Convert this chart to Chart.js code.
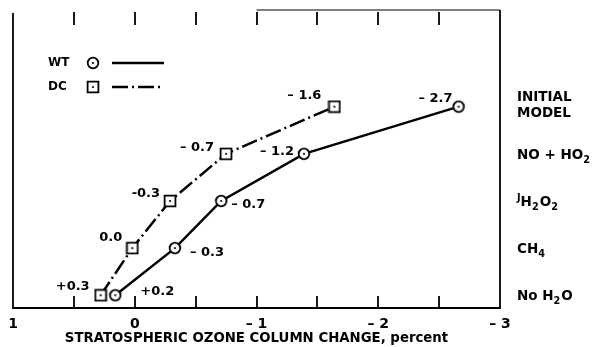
<!DOCTYPE html>
<html>
<head>
<meta charset="utf-8">
<script src="https://cdn.jsdelivr.net/npm/chart.js@4"></script>
<style>
  body { margin: 0; background: #fff; }
  #wrap { width: 594px; height: 347px; }
</style>
</head>
<body>
<div id="wrap"><canvas id="ozone" width="594" height="347"></canvas></div>
<script>
// rows, bottom to top
const rows = ['No H₂O', 'CH₄', 'ᴶH₂O₂', 'NO + HO₂', 'INITIAL\nMODEL'];
const rowPos = [0, 1, 2, 3, 4];

// ozone column change, percent
const wtChange = [0.16, -0.33, -0.71, -1.39, -2.66];
const dcChange = [0.28, 0.02, -0.29, -0.75, -1.64];
const wtText = ['+0.2', '– 0.3', '– 0.7', '– 1.2', '– 2.7'];
const dcText = ['+0.3', '0.0', '-0.3', '– 0.7', '– 1.6'];

const xTickValues = [1, 0, -1, -2, -3];
const xTickText = ['1', '0', '– 1', '– 2', '– 3'];
const xMinorTicks = [0.5, 0, -0.5, -1, -1.5, -2, -2.5];

const FONT = '"DejaVu Sans", sans-serif';

// marker images (circle / square with centre dot)
function makeMarker(shape) {
    const c = document.createElement('canvas');
    c.width = 14; c.height = 14;
    const g = c.getContext('2d');
    g.fillStyle = '#fff';
    g.strokeStyle = '#000';
    g.lineWidth = 1.8;
    g.beginPath();
    if (shape === 'circle') g.arc(7, 7, 5.3, 0, Math.PI * 2);
    else g.rect(1.6, 1.6, 10.8, 10.8);
    g.fill();
    g.stroke();
    g.fillStyle = '#000';
    g.beginPath();
    g.arc(7, 7, 1.1, 0, Math.PI * 2);
    g.fill();
    return c;
}
const circleImg = makeMarker('circle');
const squareImg = makeMarker('square');

// text with subscript digits and raised J
const SUB = { '₀': '0', '₁': '1', '₂': '2', '₃': '3', '₄': '4' };
function drawRich(ctx, text, x, y, size) {
    ctx.textBaseline = 'alphabetic';
    ctx.textAlign = 'left';
    let cx = x;
    for (const ch of text) {
        if (SUB[ch]) {
            ctx.font = 'bold ' + (size * 0.72) + 'px ' + FONT;
            ctx.fillText(SUB[ch], cx, y + 4);
            cx += ctx.measureText(SUB[ch]).width + 1;
        } else if (ch === 'ᴶ') {
            ctx.font = 'bold ' + (size * 0.72) + 'px ' + FONT;
            ctx.fillText('J', cx, y - 5);
            cx += ctx.measureText('J').width;
        } else {
            ctx.font = 'bold ' + size + 'px ' + FONT;
            ctx.fillText(ch, cx, y);
            cx += ctx.measureText(ch).width;
        }
    }
}

// label offsets from the marker: [dx, dy, align]
const wtLabelPos = [[25, -4, 'left'], [15, 5, 'left'], [10, 4, 'left'], [-10, -2, 'right'], [-6, -8, 'right']];
const dcLabelPos = [[-11, -9, 'right'], [-10, -10, 'right'], [-10, -7, 'right'], [-12, -6, 'right'], [-13, -11, 'right']];

const decorPlugin = {
    id: 'decor',
    beforeDatasetsDraw(chart) {
        const { ctx, chartArea: a, scales: { x } } = chart;
        ctx.save();
        ctx.strokeStyle = '#000';
        // frame (top edge is faded out on the left in the original)
        ctx.lineWidth = 1.8;
        ctx.beginPath();
        ctx.moveTo(a.left, a.top + 3); ctx.lineTo(a.left, a.bottom);
        ctx.lineTo(a.right, a.bottom); ctx.lineTo(a.right, a.top);
        ctx.stroke();
        ctx.lineWidth = 1.2;
        ctx.beginPath();
        ctx.moveTo(x.getPixelForValue(-1), a.top); ctx.lineTo(a.right, a.top);
        ctx.stroke();
        // inside ticks top and bottom
        ctx.lineWidth = 1.8;
        xMinorTicks.forEach(v => {
            const px = Math.round(x.getPixelForValue(v));
            ctx.beginPath();
            ctx.moveTo(px, a.bottom); ctx.lineTo(px, a.bottom - 12);
            ctx.moveTo(px, a.top + 2); ctx.lineTo(px, a.top + 15);
            ctx.stroke();
        });
        ctx.restore();
    },
    afterDatasetsDraw(chart) {
        const { ctx, chartArea: a, scales: { x, y } } = chart;
        ctx.save();
        ctx.fillStyle = '#000';
        // value labels
        ctx.font = 'bold 13px ' + FONT;
        ctx.textBaseline = 'middle';
        [[wtChange, wtText, wtLabelPos], [dcChange, dcText, dcLabelPos]].forEach(([vals, txt, pos]) => {
            vals.forEach((v, i) => {
                const px = x.getPixelForValue(v);
                const py = y.getPixelForValue(rowPos[i]);
                ctx.textAlign = pos[i][2];
                ctx.fillText(txt[i], px + pos[i][0], py + pos[i][1]);
            });
        });
        // row labels on the right
        rows.forEach((r, i) => {
            const py = y.getPixelForValue(rowPos[i]);
            const lines = r.split('\n');
            lines.forEach((ln, k) => {
                const ly = py + 5 + (k - (lines.length - 1) / 2) * 16 - (lines.length > 1 ? 3 : 0);
                drawRich(ctx, ln, a.right + 17, ly, 13.5);
            });
        });
        // legend
        ctx.font = 'bold 12px ' + FONT;
        ctx.textAlign = 'left';
        ctx.textBaseline = 'middle';
        ctx.fillText('WT', 48, 63);
        ctx.fillText('DC', 48, 87);
        ctx.lineWidth = 2.5;
        ctx.beginPath(); ctx.moveTo(112, 63); ctx.lineTo(164, 63); ctx.stroke();
        ctx.setLineDash([16, 4, 2, 4]);
        ctx.beginPath(); ctx.moveTo(112, 87); ctx.lineTo(164, 87); ctx.stroke();
        ctx.setLineDash([]);
        ctx.drawImage(circleImg, 93 - 7, 63 - 7);
        ctx.drawImage(squareImg, 93 - 7, 87 - 7);
        ctx.restore();
    }
};

function toPoints(vals) {
    return vals.map((v, i) => ({ x: v, y: rowPos[i] }));
}

new Chart(document.getElementById('ozone'), {
    type: 'line',
    data: {
        datasets: [{
            label: 'WT',
            data: toPoints(wtChange),
            borderColor: '#000',
            borderWidth: 2.5,
            pointStyle: circleImg,
            tension: 0
        }, {
            label: 'DC',
            data: toPoints(dcChange),
            borderColor: '#000',
            borderWidth: 2.5,
            borderDash: [16, 4, 2, 4],
            pointStyle: squareImg,
            tension: 0
        }]
    },
    options: {
        responsive: false,
        animation: false,
        devicePixelRatio: 1,
        layout: { padding: { left: 13, right: 94, top: 10, bottom: 0 } },
        plugins: { legend: { display: false }, tooltip: { enabled: false } },
        scales: {
            x: {
                type: 'linear',
                min: -3, max: 1,
                reverse: true,
                grid: { display: false },
                border: { display: false },
                afterBuildTicks: s => { s.ticks = xTickValues.map(v => ({ value: v })); },
                afterFit: s => { s.height = 39; },
                ticks: {
                    autoSkip: false,
                    maxRotation: 0,
                    padding: 0,
                    color: '#000',
                    font: { family: FONT, size: 14, weight: 'bold' },
                    callback: v => xTickText[xTickValues.indexOf(v)]
                },
                title: {
                    display: true,
                    text: 'STRATOSPHERIC OZONE COLUMN CHANGE, percent',
                    color: '#000',
                    padding: { top: 0, bottom: 0 },
                    font: { family: FONT, size: 13.3, weight: 'bold' }
                }
            },
            y: {
                type: 'linear',
                min: -0.27, max: 6.05,
                display: false
            }
        }
    },
    plugins: [decorPlugin]
});
</script>
</body>
</html>
